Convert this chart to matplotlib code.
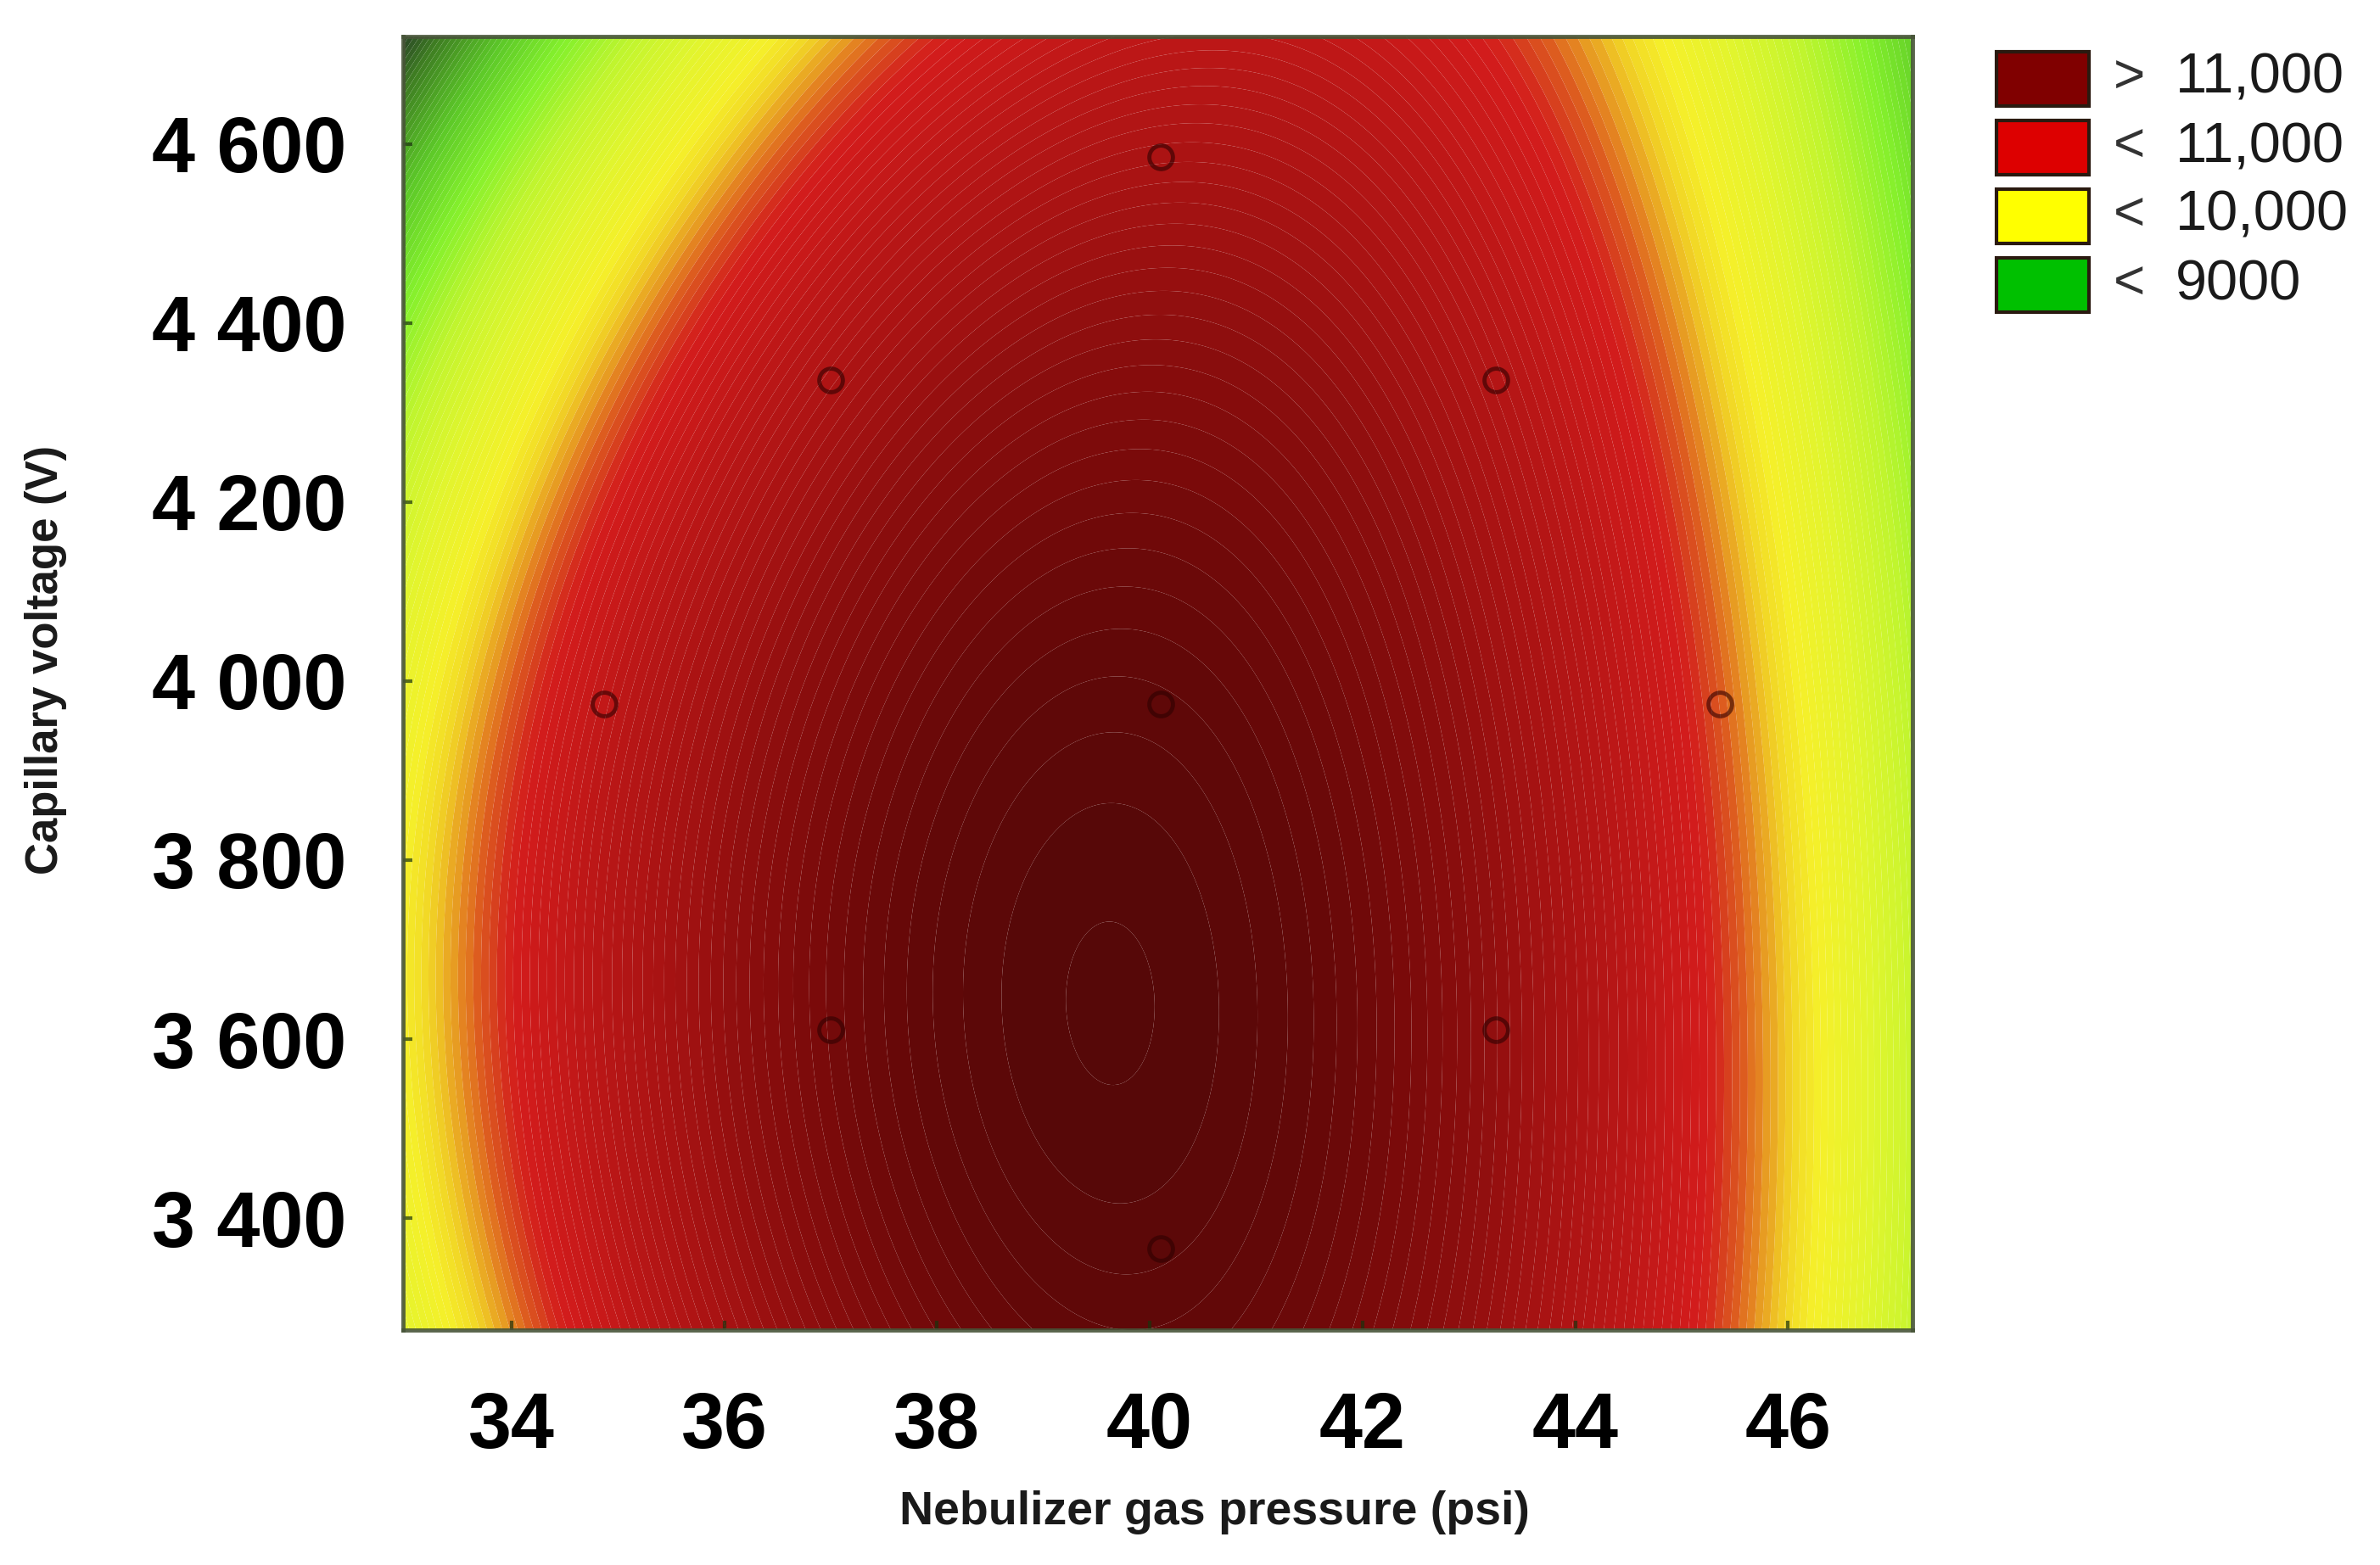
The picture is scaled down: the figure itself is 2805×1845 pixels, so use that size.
import numpy as np
import matplotlib
matplotlib.use("Agg")
import matplotlib.pyplot as plt
from matplotlib import font_manager
from matplotlib.colors import LinearSegmentedColormap, Normalize
from matplotlib.patches import Rectangle

# ---------------- data ----------------
# design points (nebulizer pressure psi, capillary voltage V)
design_x = [40.1, 37.0, 43.25, 34.87, 40.1, 45.36, 37.0, 43.25, 40.1]
design_y = [4585, 4336, 4336, 3974, 3974, 3974, 3610, 3610, 3366]

# fitted response surface
surf_max = 12010.0          # peak response
surf_y0 = 3640.0            # V at peak
surf_ax = 57.5              # curvature along pressure (at peak row)
surf_ax_bend = 1.29e-7      # growth of pressure curvature away from peak row
surf_by = 0.0012            # curvature along voltage
ridge_x0 = 39.62            # ridge position (psi) at ridge_ym
ridge_ym = 3731.0           # V where ridge is furthest left
ridge_bend = 1.028e-6       # ridge bend (psi per V^2)

x_range = [32.98, 47.17]
y_range = [3275, 4720]

xticks = [34, 36, 38, 40, 42, 44, 46]
xtick_labels = ["34", "36", "38", "40", "42", "44", "46"]
yticks = [3400, 3600, 3800, 4000, 4200, 4400, 4600]
ytick_labels = ["3 400", "3 600", "3 800", "4 000", "4 200", "4 400", "4 600"]

# colour anchors (response value -> colour)
cmap_values = [6745, 7100, 7650, 8150, 8620, 9050, 9452, 9645, 9810, 9947, 10085, 10195, 11047, 11597, 11801, 12010]
cmap_colors = ["#2a4626", "#3f8022", "#5cc828", "#84f02c", "#c0f52e", "#e0f52e", "#f5f02a", "#f2d826",
               "#e8a022", "#e06a20", "#d63a1e", "#d41c1c", "#a51212", "#780a0a", "#650808", "#560808"]

legend_symbols = [">", "<", "<", "<"]
legend_values = ["11,000", "11,000", "10,000", "9000"]
legend_colors = ["#800000", "#dd0000", "#ffff00", "#00c000"]

xlabel = "Nebulizer gas pressure (psi)"
ylabel = "Capillary voltage (V)"

# ---------------- fonts ----------------
avail = {f.name for f in font_manager.fontManager.ttflist}
narrow = "Liberation Sans Narrow" if "Liberation Sans Narrow" in avail else "Liberation Sans"
base = "Liberation Sans" if "Liberation Sans" in avail else "DejaVu Sans"
plt.rcParams["font.family"] = [base, "DejaVu Sans"]

# ---------------- figure ----------------
W, H = 2805, 1845
fig = plt.figure(figsize=(W / 100, H / 100), dpi=100)
fig.patch.set_facecolor("white")
ax = fig.add_axes([475 / W, 1 - 1568 / H, (2254 - 475) / W, (1568 - 43) / H])

gx = np.linspace(x_range[0], x_range[1], 500)
gy = np.linspace(y_range[0], y_range[1], 500)
X, Y = np.meshgrid(gx, gy)
XC = ridge_x0 + ridge_bend * (Y - ridge_ym) ** 2
AX = surf_ax * (1 + surf_ax_bend * (Y - surf_y0) ** 2)
Z = surf_max - AX * (X - XC) ** 2 - surf_by * (Y - surf_y0) ** 2

vmin, vmax = cmap_values[0], cmap_values[-1]
pos = [(v - vmin) / (vmax - vmin) for v in cmap_values]
cmap = LinearSegmentedColormap.from_list("resp", list(zip(pos, cmap_colors)))
levels = np.arange(5500, 12101, 50)
cs = ax.contourf(X, Y, Z, levels=levels, cmap=cmap, norm=Normalize(vmin, vmax), extend="both",
                 antialiased=True)

ax.plot(design_x, design_y, linestyle="none", marker="o", markersize=20,
        markerfacecolor="none", markeredgecolor=(0.18, 0.0, 0.0, 0.6), markeredgewidth=3.5)

ax.set_xlim(x_range)
ax.set_ylim(y_range)
ax.set_xticks(xticks)
ax.set_xticklabels(xtick_labels)
ax.set_yticks(yticks)
ax.set_yticklabels(ytick_labels)
ax.tick_params(direction="in", length=8, width=3, color=(0.1, 0.2, 0.05, 0.7),
               labelsize=66, pad=48)
ax.tick_params(axis="x", pad=52)
for lab in ax.get_xticklabels() + ax.get_yticklabels():
    lab.set_fontweight("bold")
    lab.set_color("#000000")
for sp in ax.spines.values():
    sp.set_linewidth(3.5)
    sp.set_color((0.28, 0.33, 0.22, 0.9))

fig.text(1431 / W, 1 - 1783 / H, xlabel, ha="center", va="center",
         fontsize=46 if narrow != base else 40, fontweight="bold", family=[narrow, "DejaVu Sans"],
         color="#1a1a1a")
fig.text(54 / W, 1 - 778 / H, ylabel, ha="center", va="center", rotation=90,
         fontsize=46 if narrow != base else 38, fontweight="bold", family=[narrow, "DejaVu Sans"],
         color="#1a1a1a")

# ---------------- legend ----------------
box_x, box_w, box_h = 2353, 109, 64
box_tops = [61, 142, 223, 304]
for sym, val, col, top in zip(legend_symbols, legend_values, legend_colors, box_tops):
    r = Rectangle((box_x / W, 1 - (top + box_h) / H), box_w / W, box_h / H,
                  transform=fig.transFigure, facecolor=col, edgecolor="#2a1a10", linewidth=3)
    fig.patches.append(r)
    yc = 1 - (top + box_h / 2) / H
    fig.text(2510 / W, yc, sym, ha="center", va="center", fontsize=46, color="#333333")
    fig.text(2564 / W, yc, val, ha="left", va="center", fontsize=48, color="#1a1a1a")

fig.savefig("out.png", dpi=100, facecolor="white")
